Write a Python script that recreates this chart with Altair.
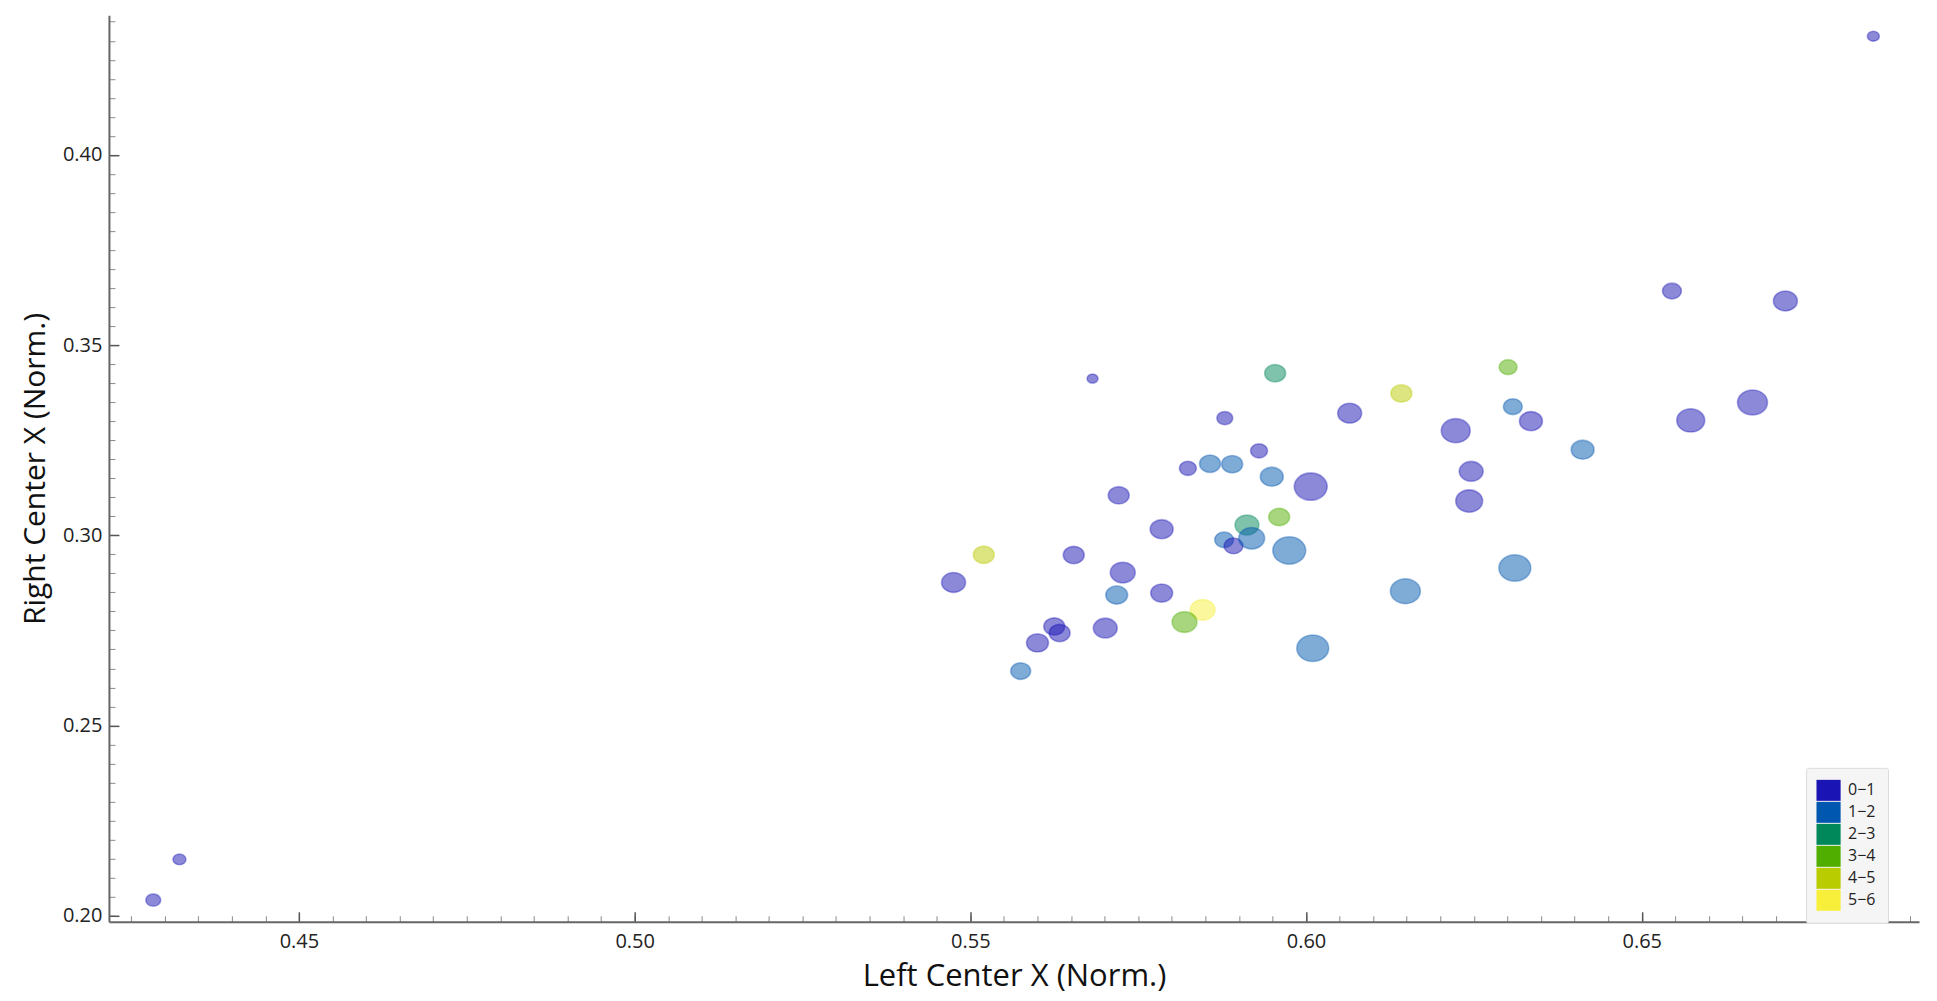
import altair as alt
import pandas as pd

# ---- data ----
left_center_x = [0.4283, 0.4322, 0.6845, 0.6545, 0.6714, 0.6301, 0.6142, 0.6065, 0.6308, 0.6335,
                 0.6223, 0.6412, 0.6573, 0.6665, 0.6246, 0.6243, 0.6148, 0.6311, 0.5682, 0.5954,
                 0.5879, 0.5930, 0.5824, 0.5857, 0.5890, 0.5949, 0.6007, 0.5721, 0.5960, 0.5912,
                 0.5785, 0.5878, 0.5892, 0.5919, 0.5975, 0.5520, 0.5654, 0.5727, 0.5475, 0.5718,
                 0.5785, 0.5846, 0.5819, 0.5625, 0.5633, 0.5701, 0.5600, 0.6010, 0.5575]
right_center_x = [0.2041, 0.2148, 0.4312, 0.3642, 0.3616, 0.3442, 0.3373, 0.3321, 0.3338, 0.3300,
                  0.3275, 0.3225, 0.3302, 0.3349, 0.3168, 0.3090, 0.2853, 0.2914, 0.3412, 0.3426,
                  0.3308, 0.3222, 0.3176, 0.3188, 0.3187, 0.3154, 0.3128, 0.3105, 0.3048, 0.3027,
                  0.3016, 0.2988, 0.2972, 0.2992, 0.2960, 0.2949, 0.2948, 0.2902, 0.2876, 0.2843,
                  0.2848, 0.2804, 0.2772, 0.2760, 0.2743, 0.2756, 0.2717, 0.2703, 0.2643]
category = ["0−1", "0−1", "0−1", "0−1", "0−1", "3−4", "4−5", "0−1", "1−2", "0−1",
            "0−1", "1−2", "0−1", "0−1", "0−1", "0−1", "1−2", "1−2", "0−1", "2−3",
            "0−1", "0−1", "0−1", "1−2", "1−2", "1−2", "0−1", "0−1", "3−4", "2−3",
            "0−1", "1−2", "0−1", "1−2", "1−2", "4−5", "0−1", "0−1", "0−1", "1−2",
            "0−1", "5−6", "3−4", "0−1", "0−1", "0−1", "0−1", "1−2", "1−2"]
magnitude = [15, 13, 12, 19, 24, 18, 21, 24, 19, 23,
             29, 23, 28, 30, 24, 27, 30, 32, 11, 21,
             16, 17, 17, 21, 21, 23, 33, 21, 21, 24,
             23, 19, 19, 26, 33, 21, 21, 25, 24, 22,
             22, 25, 25, 21, 21, 24, 22, 32, 20]

bins = ["0−1", "1−2", "2−3", "3−4", "4−5", "5−6"]
palette = ["#1a14b4", "#0057b0", "#00875a", "#4fae00", "#b9cc00", "#f7ef3a"]

x_major = [0.45, 0.50, 0.55, 0.60, 0.65]
y_major = [0.20, 0.25, 0.30, 0.35, 0.40]
x_minor = [round(0.425 + 0.005 * i, 3) for i in range(54)]
y_minor = [round(0.200 + 0.005 * i, 3) for i in range(48)]

df = pd.DataFrame({
    "lx": left_center_x,
    "rx": right_center_x,
    "bin": category,
    "mag": magnitude,
})

FONT = "Open Sans"
xs = alt.Scale(domain=[0.4217, 0.6913], nice=False, zero=False)
ys = alt.Scale(domain=[0.1984, 0.4367], nice=False, zero=False)
ELLIPSE = "M-1,0A1,0.83,0,1,1,1,0A1,0.83,0,1,1,-1,0Z"

minor = alt.Chart(df).mark_point(opacity=0).encode(
    x=alt.X("lx:Q", scale=xs, axis=alt.Axis(
        orient="bottom", values=x_minor, labels=False, domain=False, grid=False,
        tickSize={"expr": "-6"}, tickColor="#8a8a8a", tickWidth=1, title=None)),
    y=alt.Y("rx:Q", scale=ys, axis=alt.Axis(
        orient="left", values=y_minor, labels=False, domain=False, grid=False,
        tickSize={"expr": "-6"}, tickColor="#8a8a8a", tickWidth=1, title=None)),
)

pts = alt.Chart(df).mark_point(
    filled=True, shape=ELLIPSE, opacity=1, fillOpacity=0.5,
    strokeOpacity=0.35, strokeWidth=1.6,
).encode(
    x=alt.X("lx:Q", scale=xs, axis=alt.Axis(
        orient="bottom", values=x_major, format=".2f", grid=False,
        tickSize={"expr": "-10"}, tickColor="#555555", tickWidth=1.5,
        domainColor="#666666", domainWidth=2,
        labelPadding=20, labelFont=FONT, labelFontSize=20, labelColor="#222222",
        labelOverlap=False,
        title="Left Center X (Norm.)", titleFont=FONT, titleFontSize=31,
        titleFontWeight="normal", titleColor="#111111", titlePadding=10)),
    y=alt.Y("rx:Q", scale=ys, axis=alt.Axis(
        orient="left", values=y_major, format=".2f", grid=False,
        tickSize={"expr": "-10"}, tickColor="#555555", tickWidth=1.5,
        domainColor="#666666", domainWidth=2,
        labelPadding=17, labelFont=FONT, labelFontSize=20, labelColor="#222222",
        labelOverlap=False,
        title="Right Center X (Norm.)", titleFont=FONT, titleFontSize=30,
        titleFontWeight="normal", titleColor="#111111", titlePadding=12)),
    color=alt.Color("bin:N", scale=alt.Scale(domain=bins, range=palette),
                    legend=alt.Legend(
                        title=None, orient="none", direction="vertical",
                        legendX=1698, legendY=753, padding=12,
                        fillColor="#f5f5f5", strokeColor="#dcdcdc", cornerRadius=2,
                        symbolType="M-1.15,-1H1.15V1H-1.15Z", symbolSize=441,
                        symbolOpacity=1, symbolStrokeWidth=0, rowPadding=1,
                        labelFont=FONT, labelFontSize=16, labelColor="#222222",
                        labelOffset=9)),
    stroke=alt.Stroke("bin:N", scale=alt.Scale(domain=bins, range=palette), legend=None),
    size=alt.Size("mag:Q", scale=alt.Scale(type="pow", exponent=2, domain=[0, 35],
                                           range=[0, 1225]), legend=None),
)

chart = alt.layer(minor, pts).resolve_axis(
    x="independent", y="independent"
).properties(
    width=1811, height=907,
    autosize=alt.AutoSizeParams(type="none"),
    padding={"left": 101, "top": 7, "right": 10, "bottom": 72},
).configure_view(stroke=None)

chart.save("out.html", embed_options={"renderer": "svg", "actions": False})
